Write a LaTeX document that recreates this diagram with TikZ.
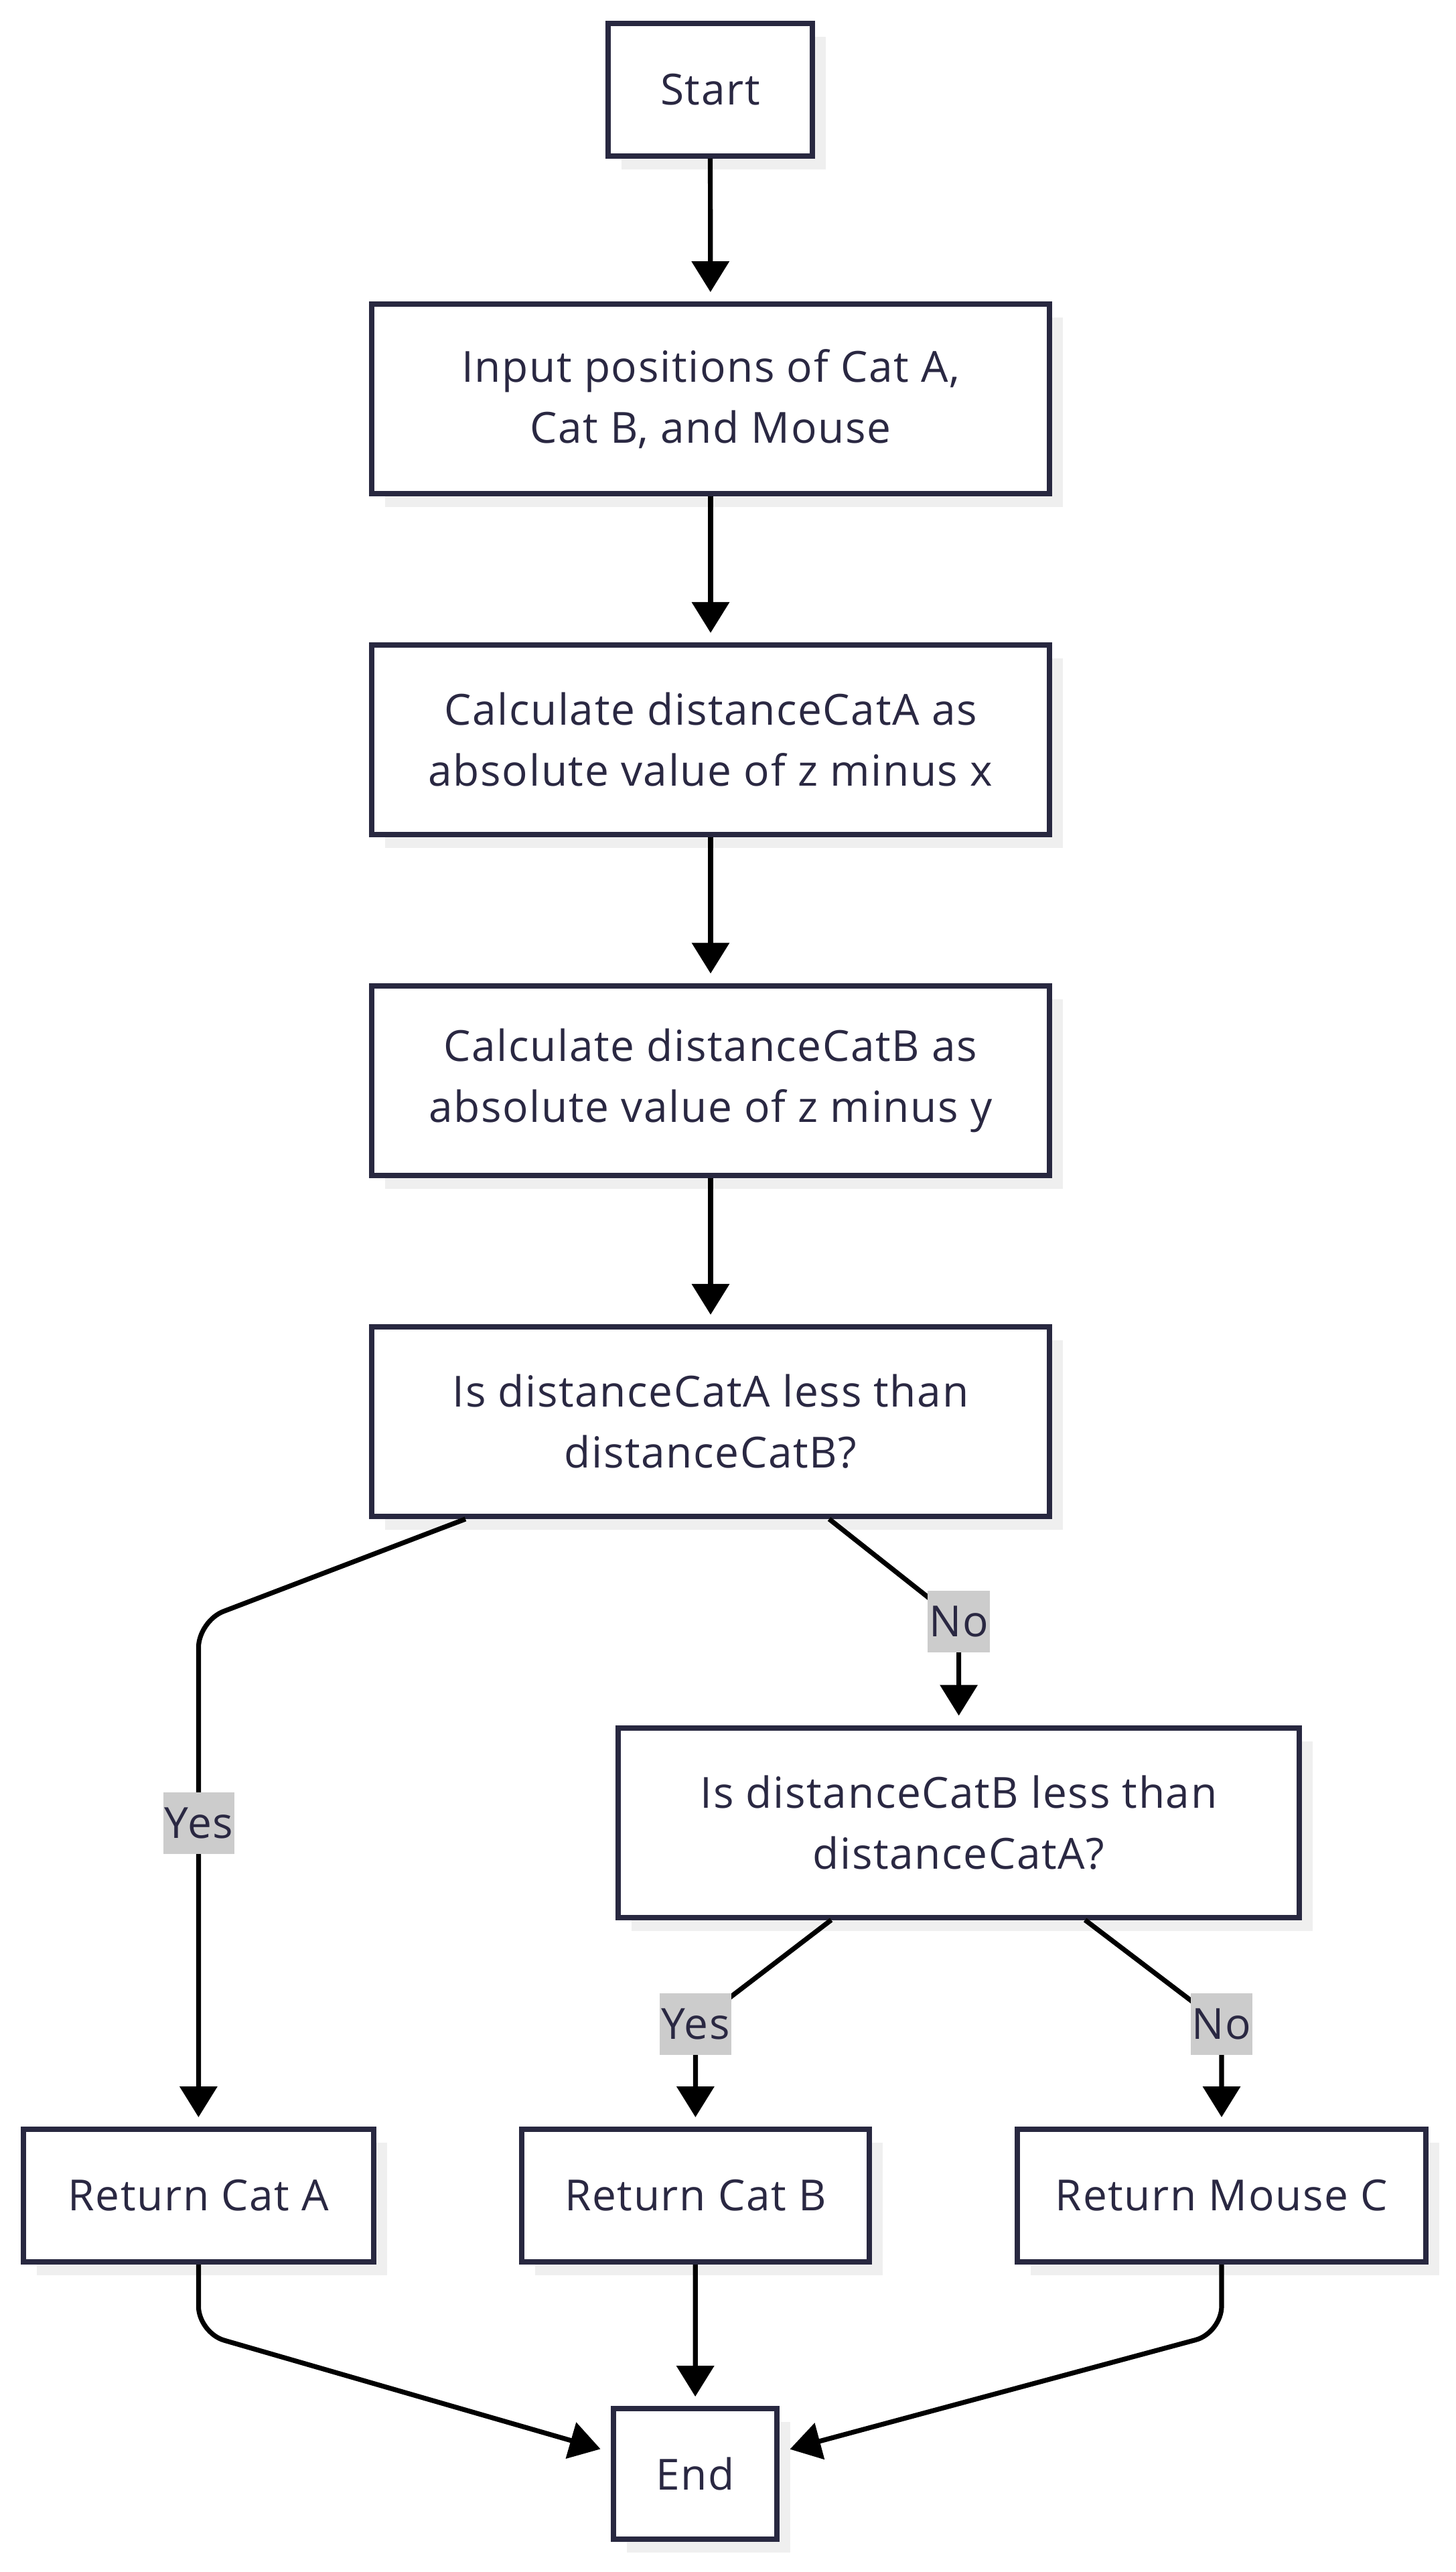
\documentclass[tikz,border=0pt]{standalone}
\usepackage{fontspec}
\setmainfont{Open Sans}[LetterSpace=2.5]
\usetikzlibrary{arrows.meta,calc}
\definecolor{boxc}{HTML}{282840}
\definecolor{textc}{HTML}{2A2842}
\definecolor{shadowc}{HTML}{EFEFEF}
\definecolor{labelc}{HTML}{CCCCCC}
\tikzset{
  flowbox/.style={draw=boxc, line width=2pt, fill=white, text=textc, align=center,
    inner sep=0pt, font=\fontsize{16pt}{22.75pt}\selectfont,
    preaction={fill=shadowc, transform canvas={shift={(5pt,-5pt)}}}},
  onebox/.style={flowbox, minimum height=49.5pt},
  twobox/.style={flowbox, minimum height=70.75pt, minimum width=253pt},
  edgelabel/.style={fill=labelc, text=textc, inner xsep=0.5pt, inner ysep=0pt,
    minimum height=23pt, font=\fontsize{16pt}{19pt}\selectfont},
  arr/.style={draw=black, line width=1.8pt, -{Triangle[width=13.75pt,length=11.5pt]},
    shorten >=3.5pt},
  plain/.style={draw=black, line width=1.8pt}
}
\begin{document}
\begin{tikzpicture}[x=1pt,y=-1pt]
\useasboundingbox (0,0) rectangle (543.25,960);
% nodes
\node[onebox, minimum width=76.25pt] (start) at (265.1,33.4) {Start};
\node[twobox] (input) at (265.25,148.9) {Input positions of Cat A,\\Cat B, and Mouse};
\node[twobox] (calcA) at (265.25,276.1) {Calculate distanceCatA as\\absolute value of z minus x};
\node[twobox] (calcB) at (265.25,403.25) {Calculate distanceCatB as\\absolute value of z minus y};
\node[twobox] (dec1) at (265.25,530.6) {Is distanceCatA less than\\distanceCatB?};
\node[twobox, minimum width=254.25pt] (dec2) at (357.9,680.25) {Is distanceCatB less than\\distanceCatA?};
\node[onebox, minimum width=130.75pt] (retA) at (74.1,819.5) {Return Cat A};
\node[onebox, minimum width=129.75pt] (retB) at (259.6,819.5) {Return Cat B};
\node[onebox, minimum width=152.5pt] (retC) at (456,819.5) {Return Mouse C};
\node[onebox, minimum width=61pt, minimum height=48.75pt] (end) at (259.5,923.4) {End};
% bend points
\coordinate (cy1) at (74.1,605);
\coordinate (cn1) at (357.9,605.25);
\coordinate (cy2) at (259.6,755.4);
\coordinate (cn2) at (456,755.4);
\coordinate (ca) at (74.1,870.75);
\coordinate (cc) at (456,870.75);
% edges
\draw[arr] (start) -- (input);
\draw[arr] (input) -- (calcA);
\draw[arr] (calcA) -- (calcB);
\draw[arr] (calcB) -- (dec1);
\draw[arr, rounded corners=10pt] ([xshift=36pt]dec1.south west) -- (cy1) -- (retA.north);
\draw[arr] ([xshift=171.75pt]dec1.south west) -- (cn1) -- (dec2.north);
\draw[arr] ([xshift=80.5pt]dec2.south west) -- (cy2) -- (retB.north);
\draw[arr] ([xshift=175.25pt]dec2.south west) -- (cn2) -- (retC.north);
\draw[arr, rounded corners=10pt, shorten >=4pt] (retA.south) -- (ca) -- ([yshift=8.2pt]end.west);
\draw[arr] (retB) -- (end);
\draw[arr, rounded corners=10pt, shorten >=4pt] (retC.south) -- (cc) -- ([yshift=8.2pt]end.east);
% edge labels
\node[edgelabel] (lyes1) at (74.25,680.5) {Yes};
\node[edgelabel] (lno1) at (357.9,605.25) {No};
\node[edgelabel] (lyes2) at (259.6,755.4) {Yes};
\node[edgelabel] (lno2) at (456,755.4) {No};
\end{tikzpicture}
\end{document}
